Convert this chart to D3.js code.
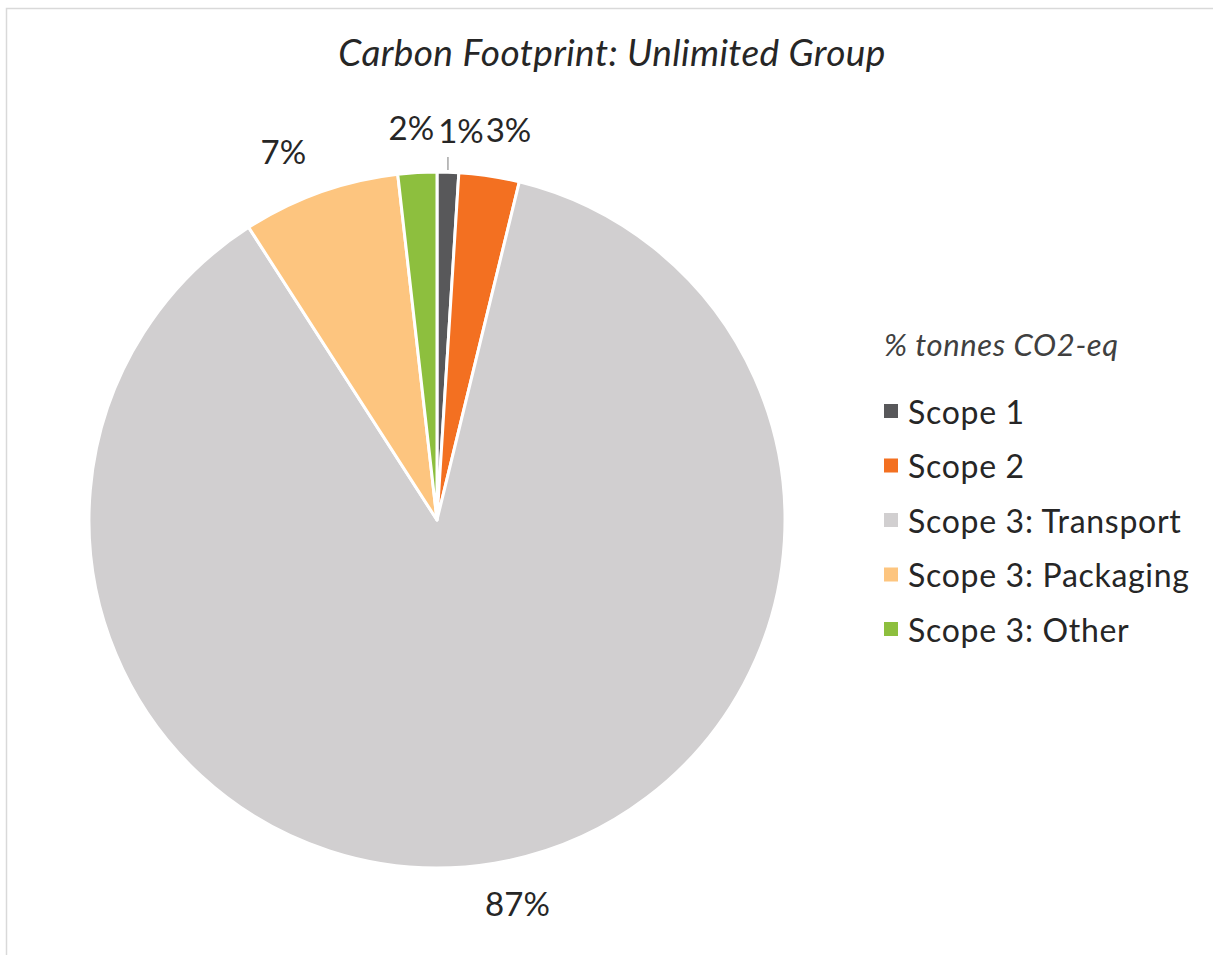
<!DOCTYPE html>
<html>
<head>
<meta charset="utf-8">
<script src="https://cdn.jsdelivr.net/npm/d3@7"></script>
<style>
  html, body { margin: 0; padding: 0; background: #fff; }
  svg { display: block; font-family: Lato, "Open Sans", sans-serif; }
</style>
</head>
<body>
<svg id="chart" width="1213" height="955"></svg>
<script>
// data
const categories = ['Scope 1', 'Scope 2', 'Scope 3: Transport', 'Scope 3: Packaging', 'Scope 3: Other']
const shares = [1.0, 2.8, 87.1, 7.3, 1.8]
const labels = ['1%', '3%', '87%', '7%', '2%']
const colors = ['#58585a', '#f37021', '#d1cfd0', '#fdc57f', '#8dbf3e']

const width = 1213, height = 955
const cx = 437, cy = 520, radius = 348

const svg = d3.select('#chart')

// chart area border
svg.append('path')
    .attr('d', `M6.5,${height} V8.5 H${width}`)
    .attr('fill', 'none')
    .attr('stroke', '#d9d9d9')
    .attr('stroke-width', 1.5)

svg.append('text')
    .attr('x', 612).attr('y', 66)
    .attr('text-anchor', 'middle')
    .style('font-size', '37px')
    .style('letter-spacing', '0.4px')
    .style('font-style', 'italic')
    .style('fill', '#262626')
    .text('Carbon Footprint: Unlimited Group')

const data = categories.map((c, i) => ({ name: c, value: shares[i], label: labels[i], color: colors[i] }))

const pie = d3.pie().sort(null).value(d => d.value)
const arcs = pie(data)
const arc = d3.arc().innerRadius(0).outerRadius(radius)
const labelArc = d3.arc().innerRadius(383).outerRadius(383)

const g = svg.append('g').attr('transform', `translate(${cx},${cy})`)

g.selectAll('path.slice')
    .data(arcs)
    .enter()
    .append('path')
    .attr('class', 'slice')
    .attr('d', arc)
    .attr('fill', d => d.data.color)
    .attr('stroke', '#fff')
    .attr('stroke-width', 3)
    .attr('stroke-linejoin', 'round')

// small nudges so the crowded labels at the top don't collide (like excel's best fit)
const nudge = [[12, -3], [14, -8], [17, 10], [-25, -4], [-4, -6]]

g.selectAll('text.lbl')
    .data(arcs)
    .enter()
    .append('text')
    .attr('class', 'lbl')
    .attr('x', (d, i) => labelArc.centroid(d)[0] + nudge[i][0])
    .attr('y', (d, i) => labelArc.centroid(d)[1] + nudge[i][1])
    .attr('text-anchor', 'middle')
    .attr('dominant-baseline', 'middle')
    .style('font-size', '33px')
    .style('fill', '#262626')
    .text(d => d.data.label)

// leader line for the tiny scope 1 slice
const a0 = arcs[0]
const mid = (a0.startAngle + a0.endAngle) / 2
const lx = Math.sin(mid) * radius
g.append('line')
    .attr('x1', lx).attr('x2', lx)
    .attr('y1', -radius - 2).attr('y2', -radius - 15)
    .attr('stroke', '#a6a6a6')
    .attr('stroke-width', 1.5)

// legend
const legend = svg.append('g').attr('transform', 'translate(884,0)')
legend.append('text')
    .attr('x', 0).attr('y', 356)
    .style('font-size', '31px')
    .style('letter-spacing', '0.6px')
    .style('font-style', 'italic')
    .style('fill', '#404040')
    .text('% tonnes CO2-eq')

const item = legend.selectAll('g.item')
    .data(data)
    .enter()
    .append('g')
    .attr('class', 'item')
    .attr('transform', (d, i) => `translate(0,${411 + i * 54.5})`)

item.append('rect')
    .attr('x', 0).attr('y', -7)
    .attr('width', 14).attr('height', 14)
    .attr('fill', d => d.color)

item.append('text')
    .attr('x', 24).attr('y', 0)
    .attr('dominant-baseline', 'central')
    .style('font-size', '32px')
    .style('letter-spacing', '0.7px')
    .style('fill', '#262626')
    .text(d => d.name)
</script>
</body>
</html>
